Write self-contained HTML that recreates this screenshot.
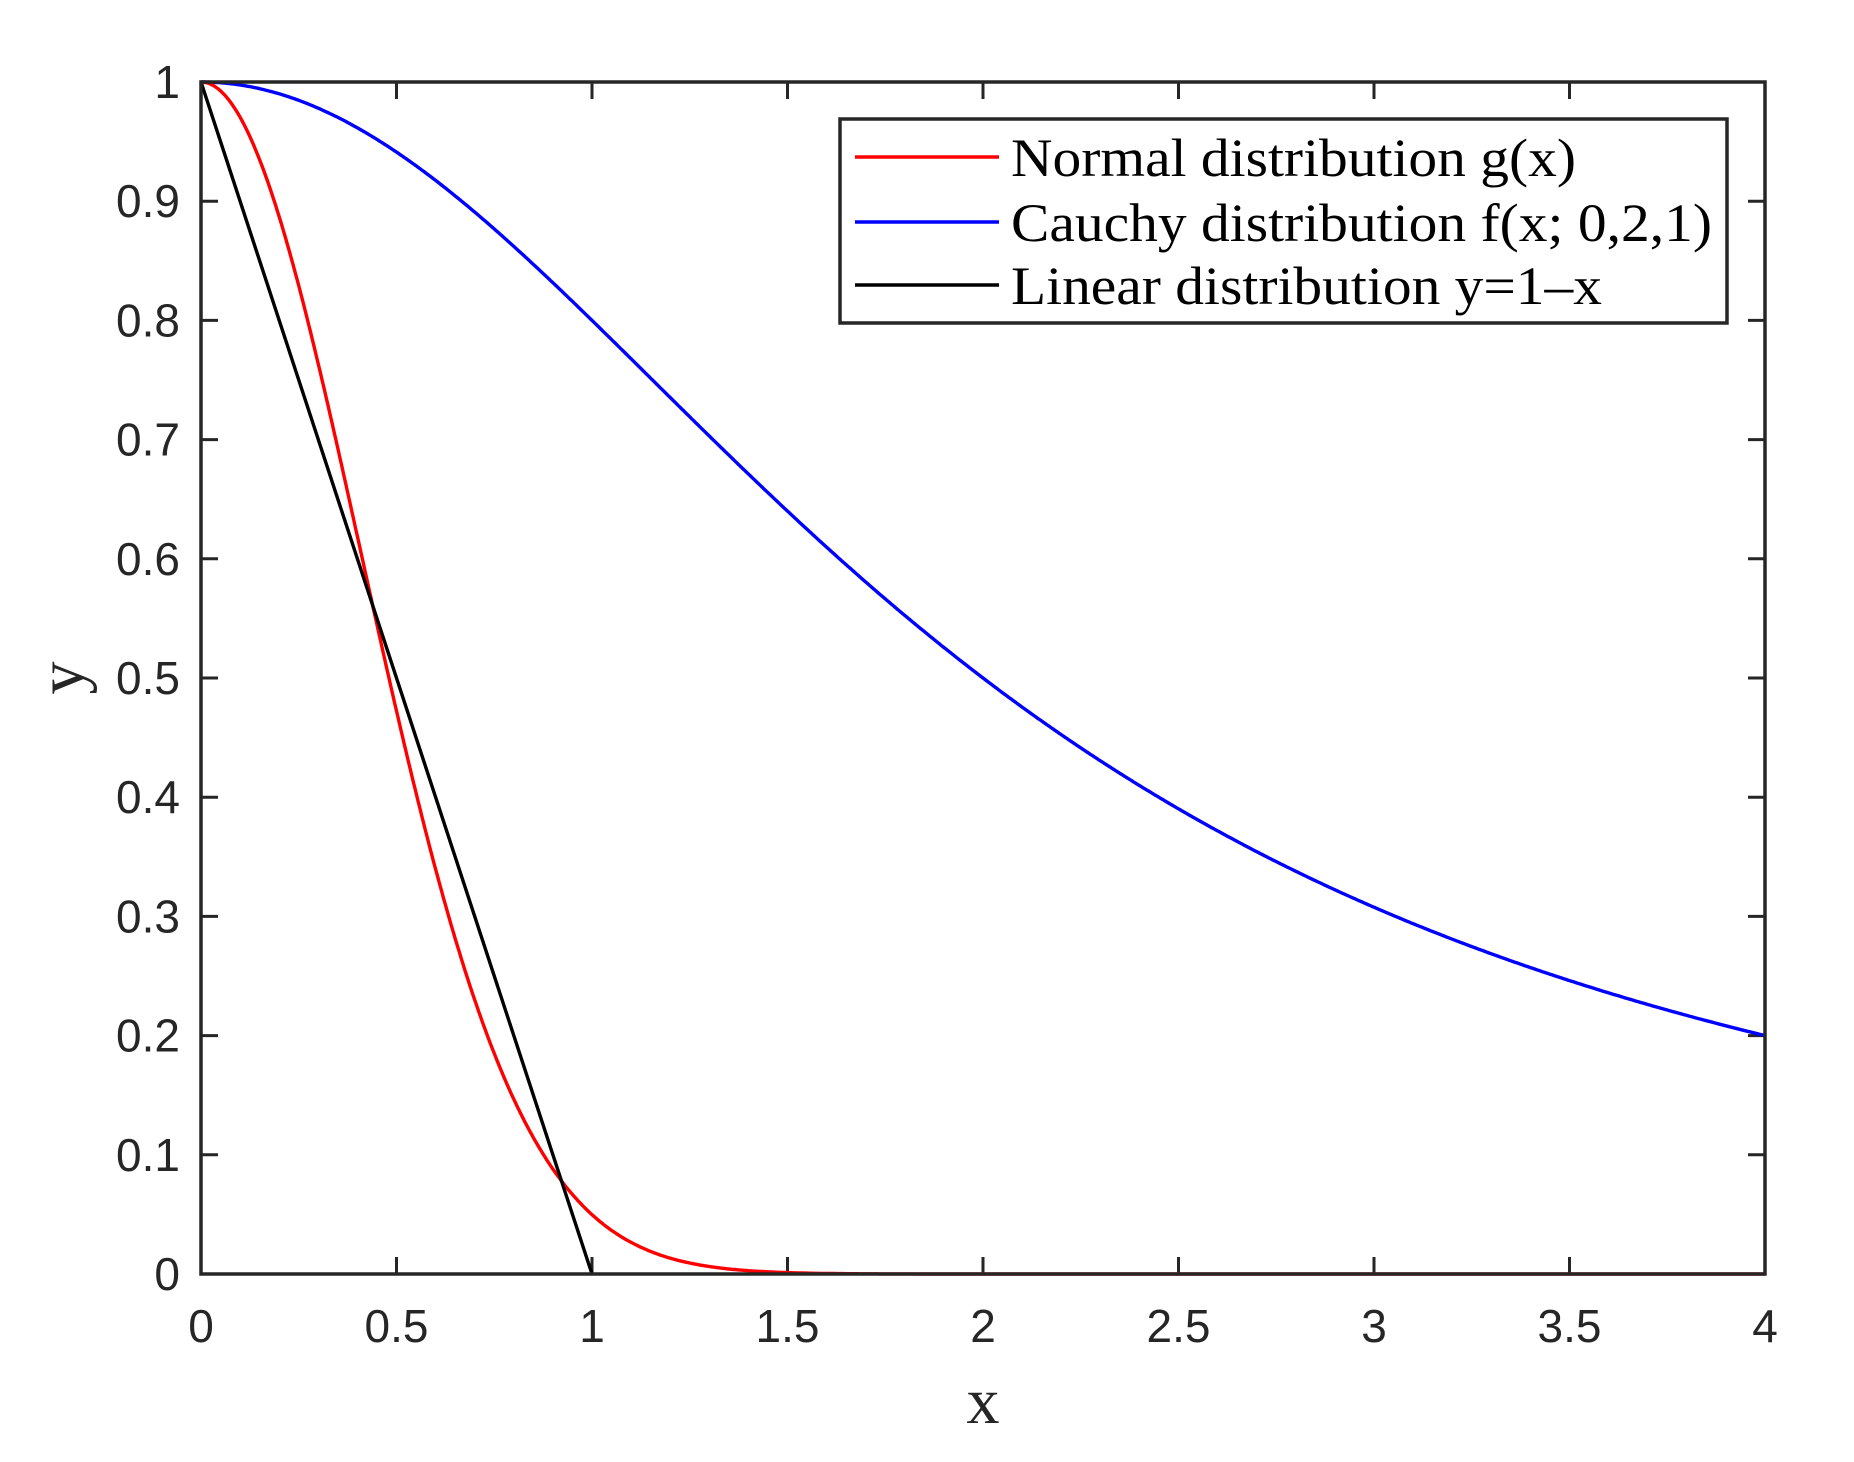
<!DOCTYPE html>
<html><head><meta charset="utf-8"><style>
html,body{margin:0;padding:0;background:#fff;}
svg{display:block;}
</style></head><body>
<svg id="s" width="1854" height="1462" viewBox="0 0 1854 1462" xmlns="http://www.w3.org/2000/svg">
<rect width="1854" height="1462" fill="#fff"/>
<g id="ticks" stroke="#262626" stroke-width="3"></g>
<g id="labels" font-family="Liberation Sans, Arial, sans-serif" font-size="46" fill="#262626"></g>
<path id="pc" fill="none" stroke="#0000ff" stroke-width="3.4"/>
<path id="pn" fill="none" stroke="#ff0000" stroke-width="3.4"/>
<path id="pl" fill="none" stroke="#000" stroke-width="3.4" d="M201,82 L592,1274"/>
<rect x="201" y="82" width="1564" height="1192" fill="none" stroke="#262626" stroke-width="3.5"/>
<text x="983" y="1423" font-family="Liberation Serif, Times New Roman, serif" font-size="66" text-anchor="middle" fill="#262626">x</text>
<text transform="translate(83,678) rotate(-90)" font-family="Liberation Serif, Times New Roman, serif" font-size="66" text-anchor="middle" fill="#262626">y</text>
<rect x="840" y="119" width="887" height="204" fill="#fff" stroke="#262626" stroke-width="3.5"/>
<line x1="855" y1="157" x2="999" y2="157" stroke="#ff0000" stroke-width="3.4"/>
<line x1="855" y1="222" x2="999" y2="222" stroke="#0000ff" stroke-width="3.4"/>
<line x1="855" y1="285" x2="999" y2="285" stroke="#000" stroke-width="3.4"/>
<g font-family="Liberation Serif, Times New Roman, serif" font-size="54" fill="#000">
<text x="1011" y="176" textLength="565" lengthAdjust="spacingAndGlyphs">Normal distribution g(x)</text>
<text x="1011" y="241" textLength="701" lengthAdjust="spacingAndGlyphs">Cauchy distribution f(x; 0,2,1)</text>
<text x="1011" y="304" textLength="591" lengthAdjust="spacingAndGlyphs">Linear distribution y=1–x</text>
</g>
</svg>
<script>
var L=201,R=1765,T=82,B=1274;
function X(x){return L+(R-L)*x/4;}
function Y(y){return B-(B-T)*y;}
var t=document.getElementById('ticks'),lb=document.getElementById('labels'),ns='http://www.w3.org/2000/svg';
function el(p,n,a,txt){var e=document.createElementNS(ns,n);for(var k in a)e.setAttribute(k,a[k]);if(txt)e.textContent=txt;p.appendChild(e);}
for(var i=0;i<=8;i++){var x=X(i*0.5);
el(t,'line',{x1:x,y1:B,x2:x,y2:B-17});el(t,'line',{x1:x,y1:T,x2:x,y2:T+17});
el(lb,'text',{x:x,y:1342,'text-anchor':'middle'},String(i*0.5));}
for(var j=0;j<=10;j++){var y=Y(j/10);
el(t,'line',{x1:L,y1:y,x2:L+17,y2:y});el(t,'line',{x1:R,y1:y,x2:R-17,y2:y});
el(lb,'text',{x:180,y:y+16,'text-anchor':'end'},j==0?'0':j==10?'1':(j/10).toFixed(1));}
var dc='',dn='';
for(var k=0;k<=800;k++){var x=k/200;
dc+=(k?'L':'M')+X(x).toFixed(1)+','+Y(1/(1+x*x/4)).toFixed(1);
dn+=(k?'L':'M')+X(x).toFixed(1)+','+Y(Math.exp(-3*x*x)).toFixed(1);}
document.getElementById('pc').setAttribute('d',dc);
document.getElementById('pn').setAttribute('d',dn);
</script>
</body></html>
